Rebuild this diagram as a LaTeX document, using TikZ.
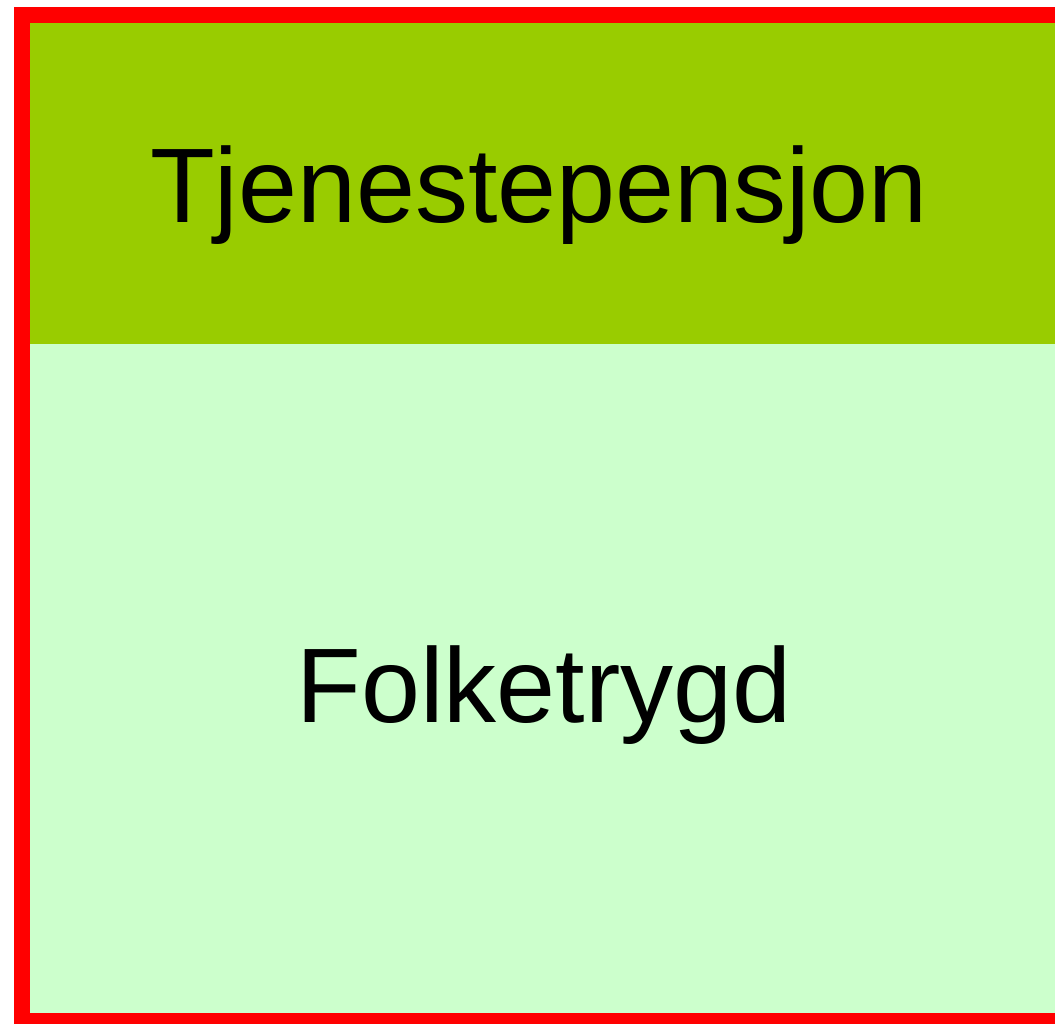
\documentclass[tikz,border=0pt]{standalone}
\usepackage{fontspec}
\setmainfont{Liberation Sans}
\usepackage{tikz}
\usetikzlibrary{positioning}
\definecolor{pensjongreen}{HTML}{99CC00}
\definecolor{trygdgreen}{HTML}{CCFFCC}
\tikzset{layertext/.style={anchor=base,font=\fontsize{106}{120}\selectfont,text=black}}

\begin{document}
\begin{tikzpicture}[x=1pt,y=-1pt]
\useasboundingbox (0,0) rectangle (1055,1023);
% the two layers
\fill [trygdgreen] (30,344) rectangle (1070,1013);
\fill [pensjongreen] (30,23) rectangle (1070,344);
% red frame, cut off at the right and bottom
\draw [red, line width=16pt] (22,15) rectangle (1063,1021);

\node[layertext] (tjeneste) at (539,222) {Tjenestepensjon};
\node[layertext] (folketrygd) at (544,722) {Folketrygd};
\end{tikzpicture}
\end{document}
